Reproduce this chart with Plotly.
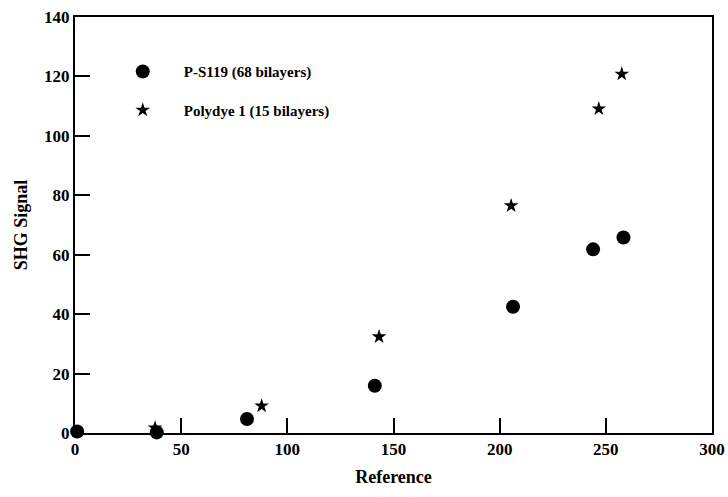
import plotly.graph_objects as go

ps_x = [1, 38.5, 81, 141.2, 206.3, 244, 258.3]
ps_y = [0.5, 0.2, 4.7, 15.9, 42.5, 61.8, 65.8]
pd_x = [37.7, 87.9, 143.2, 205.4, 246.7, 257.5]
pd_y = [1.7, 9.1, 32.4, 76.5, 109.1, 120.8]
x_ticks = [0, 50, 100, 150, 200, 250, 300]
y_ticks = [0, 20, 40, 60, 80, 100, 120, 140]

FONT = "Liberation Serif"

fig = go.Figure()
fig.add_trace(go.Scatter(x=ps_x, y=ps_y, mode="markers", name="P-S119 (68 bilayers)",
                         marker=dict(symbol="circle", size=14, color="black"),
                         cliponaxis=False, legendgroup="a"))
fig.add_trace(go.Scatter(x=pd_x, y=pd_y, mode="markers", name="Polydye 1 (15 bilayers)",
                         marker=dict(symbol="star", size=11, color="black"),
                         cliponaxis=False, legendgroup="b"))

fig.update_layout(
    width=728, height=497,
    margin=dict(l=75, r=16, t=17, b=64),
    plot_bgcolor="white", paper_bgcolor="white",
    font=dict(family=FONT, color="black"),
    showlegend=True,
    legend=dict(x=0.042, y=0.908, xanchor="left", yanchor="top",
                bgcolor="rgba(0,0,0,0)", traceorder="grouped", tracegroupgap=16,
                font=dict(family=FONT, size=15, color="black", weight="bold"), itemwidth=72),
)
fig.update_xaxes(range=[0, 300], tickvals=x_ticks, showgrid=False, zeroline=False,
                 showline=True, linecolor="black", linewidth=2, mirror=True, automargin=False,
                 ticks="inside", ticklen=15, tickwidth=2, tickcolor="black",
                 ticklabeloverflow="allow",
                 tickfont=dict(family=FONT, size=17, color="black", weight="bold"),
                 title=dict(text="Reference", font=dict(family=FONT, size=18, weight="bold"), standoff=12))
fig.update_yaxes(range=[0, 140], tickvals=y_ticks, showgrid=False, zeroline=False,
                 showline=True, linecolor="black", linewidth=2, mirror=True, automargin=False,
                 ticks="inside", ticklen=15, tickwidth=2, tickcolor="black",
                 ticklabeloverflow="allow",
                 tickfont=dict(family=FONT, size=17, color="black", weight="bold"),
                 title=dict(text="SHG Signal", font=dict(family=FONT, size=18, weight="bold"), standoff=12))
fig.write_html("out.html", config={"displayModeBar": False},
               post_script="document.body.style.margin='0';document.body.style.overflow='hidden';")
